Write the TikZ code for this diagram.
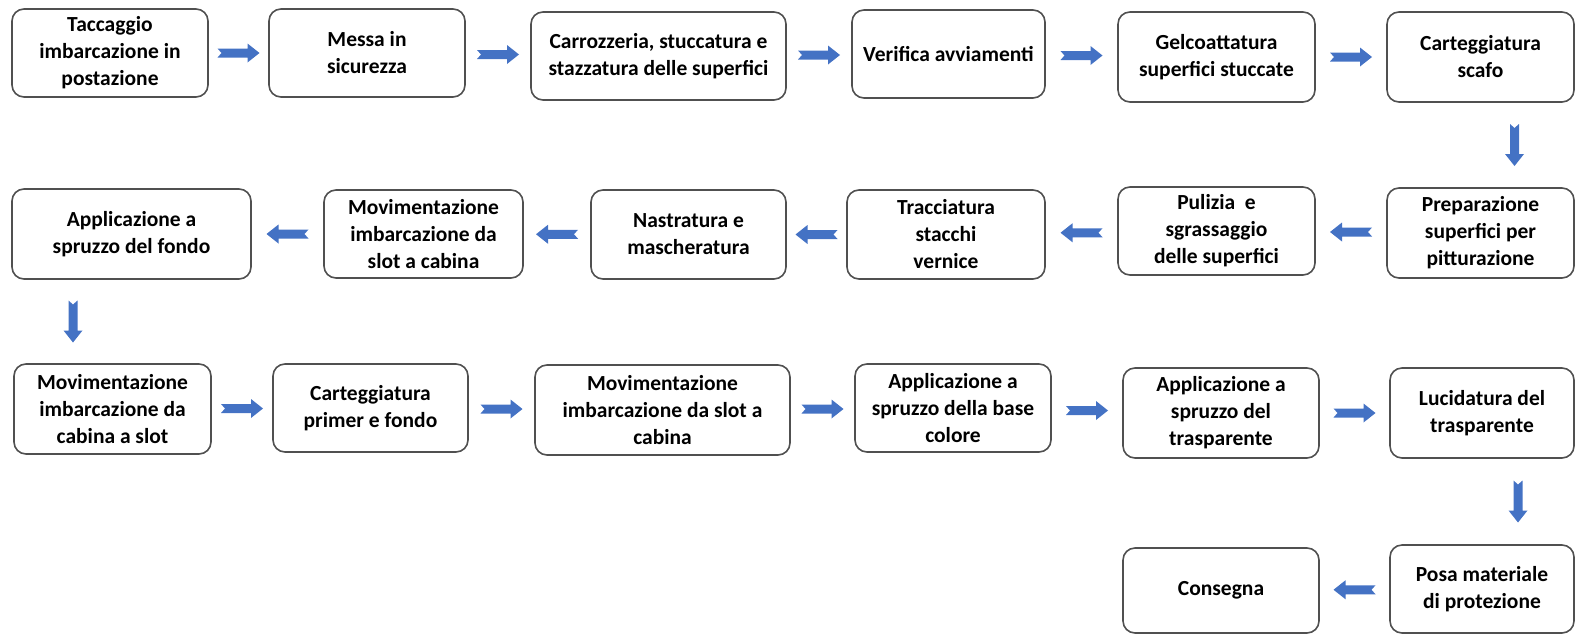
\documentclass[tikz,border=0pt]{standalone}
\usepackage{fontspec}
\setmainfont{Carlito}
\usetikzlibrary{calc}
\definecolor{arrowblue}{RGB}{68,114,196}
\definecolor{boxline}{RGB}{80,80,80}
\tikzset{
  box/.style={draw=boxline, line width=1.6pt, rounded corners=12pt, fill=white,
    align=center, inner sep=0pt, font=\fontsize{21.5}{27}\selectfont\bfseries},
  barrow/.pic={\fill[arrowblue] (-21,-4.5) -- (9,-4.5) -- (9,-9.5) -- (21,0) -- (9,9.5) -- (9,4.5) -- (-21,4.5) -- (-17,0) -- cycle;}
}
\begin{document}
\begin{tikzpicture}[x=1pt,y=-1pt]
\useasboundingbox (0,0) rectangle (1576,635);
% row 1
\node[box, minimum width=196, minimum height=88] (r1a) at (110,53) {Taccaggio\\imbarcazione in\\postazione};
\node[box, minimum width=196, minimum height=88] (r1b) at (367,53) {Messa in\\sicurezza};
\node[box, minimum width=255, minimum height=88] (r1c) at (658.5,56) {Carrozzeria, stuccatura e\\stazzatura delle superfici};
\node[box, minimum width=193, minimum height=88] (r1d) at (948.5,54) {Verifica avviamenti};
\node[box, minimum width=197, minimum height=90] (r1e) at (1216.5,57) {Gelcoattatura\\superfici stuccate};
\node[box, minimum width=187, minimum height=90] (r1f) at (1480.5,57) {Carteggiatura\\scafo};
% row 2
\node[box, minimum width=239, minimum height=90] (r2a) at (131.5,234) {Applicazione a\\spruzzo del fondo};
\node[box, minimum width=199, minimum height=88] (r2b) at (423.5,234) {Movimentazione\\imbarcazione da\\slot a cabina};
\node[box, minimum width=195, minimum height=89] (r2c) at (688.5,234.5) {Nastratura e\\mascheratura};
\node[box, minimum width=198, minimum height=89] (r2d) at (946,234.5) {Tracciatura\\stacchi\\vernice};
\node[box, minimum width=197, minimum height=88] (r2e) at (1216.5,231) {Pulizia\ \ e\\sgrassaggio\\delle superfici};
\node[box, minimum width=187, minimum height=90] (r2f) at (1480.5,233) {Preparazione\\superfici per\\pitturazione};
% row 3
\node[box, minimum width=197, minimum height=90] (r3a) at (112.5,409) {Movimentazione\\imbarcazione da\\cabina a slot};
\node[box, minimum width=195, minimum height=88] (r3b) at (370.5,408) {Carteggiatura\\primer e fondo};
\node[box, minimum width=255, minimum height=90] (r3c) at (662.5,410) {Movimentazione\\imbarcazione da slot a\\cabina};
\node[box, minimum width=196, minimum height=88] (r3d) at (953,408) {Applicazione a\\spruzzo della base\\colore};
\node[box, minimum width=196, minimum height=90] (r3e) at (1221,413) {Applicazione a\\spruzzo del\\trasparente};
\node[box, minimum width=184, minimum height=90] (r3f) at (1482,413) {Lucidatura del\\trasparente};
% row 4
\node[box, minimum width=196, minimum height=85] (r4e) at (1221,590.5) {Consegna};
\node[box, minimum width=184, minimum height=88] (r4f) at (1482,589) {Posa materiale\\di protezione};
% arrows row 1
\pic at ($(r1a.east)!0.5!(r1b.west)$) {barrow};
\pic at ($(r1b.east)!0.5!(r1c.west)$) {barrow};
\pic at ($(r1c.east)!0.5!(r1d.west)$) {barrow};
\pic at ($(r1d.east)!0.5!(r1e.west)$) {barrow};
\pic at ($(r1e.east)!0.5!(r1f.west)$) {barrow};
% down
\coordinate (d1) at ($(r1f.south)!0.5!(r2f.north)$);
\pic[rotate=-90] at ([xshift=34pt]d1) {barrow};
% arrows row 2
\pic[rotate=180] at ($(r2f.west)!0.5!(r2e.east)$) {barrow};
\pic[rotate=180] at ($(r2e.west)!0.5!(r2d.east)$) {barrow};
\pic[rotate=180] at ($(r2d.west)!0.5!(r2c.east)$) {barrow};
\pic[rotate=180] at ($(r2c.west)!0.5!(r2b.east)$) {barrow};
\pic[rotate=180] at ($(r2b.west)!0.5!(r2a.east)$) {barrow};
% down
\coordinate (d2) at ($(r2a.south)!0.5!(r3a.north)$);
\pic[rotate=-90] at ([xshift=-49pt]d2) {barrow};
% arrows row 3
\pic at ($(r3a.east)!0.5!(r3b.west)$) {barrow};
\pic at ($(r3b.east)!0.5!(r3c.west)$) {barrow};
\pic at ($(r3c.east)!0.5!(r3d.west)$) {barrow};
\pic at ($(r3d.east)!0.5!(r3e.west)$) {barrow};
\pic at ($(r3e.east)!0.5!(r3f.west)$) {barrow};
% down
\coordinate (d3) at ($(r3f.south)!0.5!(r4f.north)$);
\pic[rotate=-90] at ([xshift=36pt]d3) {barrow};
% row 4
\pic[rotate=180] at ($(r4f.west)!0.5!(r4e.east)$) {barrow};
\end{tikzpicture}
\end{document}
